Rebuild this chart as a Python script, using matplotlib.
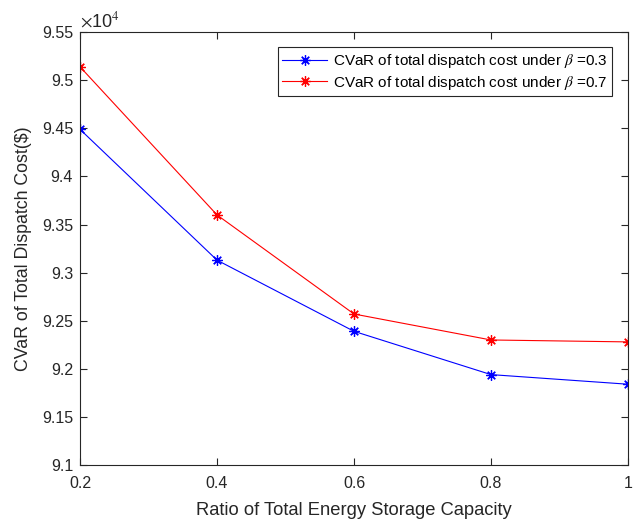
import matplotlib
matplotlib.use('Agg')
import matplotlib.pyplot as plt
from matplotlib.ticker import FuncFormatter

plt.rcParams['font.family'] = ['Liberation Sans', 'DejaVu Sans']
plt.rcParams['mathtext.fontset'] = 'stix'

# storage capacity ratio vs CVaR of total dispatch cost ($)
ratio = [0.2, 0.4, 0.6, 0.8, 1.0]
cvar_beta03 = [94490, 93130, 92390, 91940, 91840]
cvar_beta07 = [95140, 93600, 92570, 92300, 92280]
labels = ['CVaR of total dispatch cost under $\\beta$ =0.3',
          'CVaR of total dispatch cost under $\\beta$ =0.7']

grey = '#262626'
fig = plt.figure(figsize=(6.35, 5.19), dpi=100)
ax = fig.add_axes([0.126, 0.104, 0.863, 0.834])

ast = (8, 2, 0)
ax.plot(ratio, cvar_beta03, color='blue', lw=0.8, marker=ast, ms=7.5, mew=0.9, label=labels[0])
ax.plot(ratio, cvar_beta07, color='red', lw=0.8, marker=ast, ms=7.5, mew=0.9, label=labels[1])

ax.set_xlim(0.2, 1.0)
ax.set_ylim(91000, 95500)
ax.set_xticks([0.2, 0.4, 0.6, 0.8, 1.0])
ax.set_yticks([91000 + 500 * i for i in range(10)])
ax.xaxis.set_major_formatter(FuncFormatter(lambda v, p: '%g' % round(v, 2)))
ax.yaxis.set_major_formatter(FuncFormatter(lambda v, p: '%g' % round(v / 1e4, 3)))
ax.tick_params(direction='in', top=True, right=True, length=5, width=0.8,
               colors=grey, labelsize=11.5, pad=5)
ax.tick_params(axis='x', pad=8)
for s in ax.spines.values():
    s.set_color(grey)
    s.set_linewidth(0.8)

ax.text(0.0, 1.003, '$\\times$10$^4$', transform=ax.transAxes, fontsize=13,
        color=grey, ha='left', va='bottom')

ax.set_xlabel('Ratio of Total Energy Storage Capacity', fontsize=13.2, color=grey, labelpad=8)
ax.set_ylabel('CVaR of Total Dispatch Cost($)', fontsize=12.8, color=grey, labelpad=7)

leg = ax.legend(loc='upper right', bbox_to_anchor=(0.971, 0.965), fontsize=11,
                fancybox=False, edgecolor=grey, framealpha=1, borderpad=0.3,
                handlelength=2.9, handletextpad=0.4, labelspacing=0.25,
                borderaxespad=0)
leg.get_frame().set_linewidth(0.8)
for t in leg.get_texts():
    t.set_color('black')

fig.savefig('out.png', dpi=100)
